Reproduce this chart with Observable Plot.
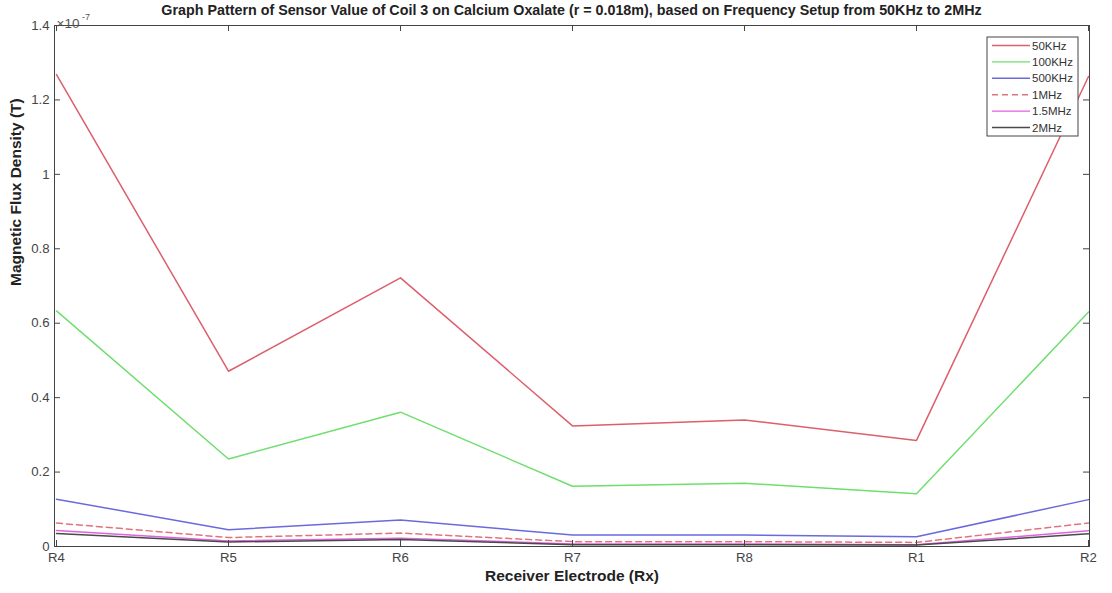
<!DOCTYPE html>
<html>
<head>
<meta charset="utf-8">
<script src="https://cdn.jsdelivr.net/npm/d3@7"></script>
<script src="https://cdn.jsdelivr.net/npm/@observablehq/plot@0.6"></script>
<style>
  body { margin: 0; background: #fff; }
  #wrap { position: relative; width: 1112px; height: 593px; font-family: "Liberation Sans", Arial, sans-serif; }
  #title { position: absolute; left: 54px; width: 1035px; top: 2px; text-align: center; font-weight: bold; font-size: 14.3px; line-height: 17px; color: #222; white-space: nowrap; }
</style>
</head>
<body>
<div id="wrap"><div id="title"></div></div>
<script>
// ---- data (values in units of 1e-7 T) ----
const categories = ["R4", "R5", "R6", "R7", "R8", "R1", "R2"];
const seriesNames = ["50KHz", "100KHz", "500KHz", "1MHz", "1.5MHz", "2MHz"];
const f50KHz  = [1.268, 0.471, 0.722, 0.324, 0.340, 0.285, 1.263];
const f100KHz = [0.633, 0.235, 0.361, 0.162, 0.170, 0.142, 0.630];
const f500KHz = [0.127, 0.045, 0.071, 0.031, 0.031, 0.026, 0.126];
const f1MHz   = [0.063, 0.024, 0.036, 0.013, 0.013, 0.011, 0.063];
const f1_5MHz = [0.043, 0.015, 0.022, 0.007, 0.007, 0.005, 0.042];
const f2MHz   = [0.035, 0.012, 0.019, 0.005, 0.005, 0.004, 0.034];
const yTicks = [0, 0.2, 0.4, 0.6, 0.8, 1, 1.2, 1.4];
const titleText = "Graph Pattern of Sensor Value of Coil 3 on Calcium Oxalate (r = 0.018m), based on Frequency Setup from 50KHz to 2MHz";
const xLabel = "Receiver Electrode (Rx)";
const yLabel = "Magnetic Flux Density (T)";

// ---- styles ----
const seriesValues = [f50KHz, f100KHz, f500KHz, f1MHz, f1_5MHz, f2MHz];
const seriesColors = ["#dc5f6b", "#6fde6f", "#6a6ade", "#e0747c", "#e062e0", "#4a4a4a"];
const seriesDash = [null, null, null, "6,4", null, null];

const W = 1112, H = 593, mL = 54, mR = 23, mT = 25, mB = 47;
const plotW = W - mL - mR, plotH = H - mT - mB;
const axisColor = "#444";

const series = seriesNames.map((name, k) => ({
  name,
  color: seriesColors[k],
  dash: seriesDash[k],
  rows: seriesValues[k].map((v, i) => ({cat: categories[i], value: v}))
}));

document.getElementById("title").textContent = titleText;

const fmt = d => String(+d.toFixed(1));

const chart = Plot.plot({
  width: W, height: H,
  marginLeft: mL, marginRight: mR, marginTop: mT, marginBottom: mB,
  style: {fontFamily: '"Liberation Sans", Arial, sans-serif', background: "transparent", overflow: "visible"},
  x: {type: "point", domain: categories, padding: 0},
  y: {domain: [0, 1.4]},
  marks: [
    ...series.map(s => Plot.lineY(s.rows, {
      x: "cat", y: "value", stroke: s.color, strokeWidth: 1.5,
      strokeDasharray: s.dash, curve: "linear"
    })),
    Plot.frame({stroke: axisColor, strokeWidth: 1}),
    Plot.tickY(yTicks, {y: d => d, insetRight: plotW - 6, stroke: axisColor}),
    Plot.tickY(yTicks, {y: d => d, insetLeft: plotW - 6, stroke: axisColor}),
    Plot.tickX(categories, {x: d => d, insetTop: plotH - 6, stroke: axisColor}),
    Plot.tickX(categories, {x: d => d, insetBottom: plotH - 6, stroke: axisColor}),
    Plot.axisY({ticks: yTicks, tickFormat: fmt, tickSize: 0, tickPadding: 5, fontSize: 13.2, fill: axisColor, label: null}),
    Plot.axisX({tickSize: 0, tickPadding: 6, fontSize: 13.2, fill: axisColor, label: null}),
    Plot.text([xLabel], {frameAnchor: "bottom", dy: 34, fontSize: 15.5, fontWeight: "bold", fill: "#222"}),
    Plot.text([yLabel], {frameAnchor: "left", dx: -38, rotate: -90, fontSize: 15.5, fontWeight: "bold", fill: "#222"}),
    Plot.text(["\u00d710"], {frameAnchor: "top-left", dx: 2, dy: -7, textAnchor: "start", fontSize: 13.5, fill: "#555"}),
    Plot.text(["-7"], {frameAnchor: "top-left", dx: 27.5, dy: -12, textAnchor: "start", fontSize: 9, fill: "#555"})
  ]
});

// ---- legend (inside the axes, top-right) ----
const svg = d3.select(chart);
const lgW = 91, lgH = 99;
const lgX = W - mR - 11 - lgW, lgY = mT + 12;
const lg = svg.append("g").attr("class", "legend").attr("text-anchor", "start");
lg.append("rect").attr("x", lgX).attr("y", lgY).attr("width", lgW).attr("height", lgH)
  .attr("fill", "#fff").attr("stroke", axisColor).attr("stroke-width", 1);
series.forEach((s, i) => {
  const yy = lgY + 8.5 + i * 16.4;
  lg.append("line").attr("x1", lgX + 5).attr("x2", lgX + 43).attr("y1", yy).attr("y2", yy)
    .attr("stroke", s.color).attr("stroke-width", 1.4)
    .attr("stroke-dasharray", s.dash);
  lg.append("text").attr("x", lgX + 45).attr("y", yy).attr("dy", "0.35em")
    .attr("text-anchor", "start")
    .attr("font-size", 11.5).attr("fill", "#333").text(s.name);
});

document.getElementById("wrap").appendChild(chart);
</script>
</body>
</html>
